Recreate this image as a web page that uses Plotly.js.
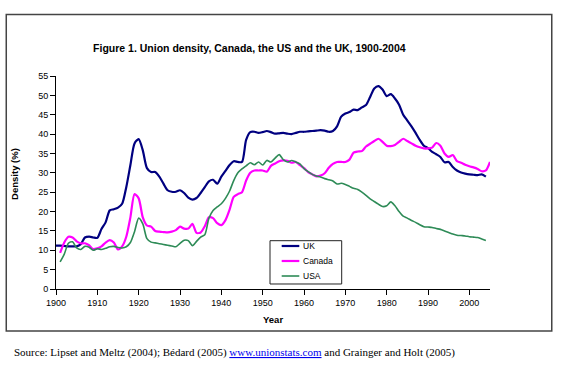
<!DOCTYPE html>
<html>
<head>
<meta charset="utf-8">
<script src="https://cdn.plot.ly/plotly-3.0.1.min.js"></script>
<style>html,body{margin:0;padding:0;background:#fff}#chart{width:568px;height:367px}</style>
</head>
<body>
<div id="chart"></div>
<script>
// ---- data ----
var ukYears = [];
for (var y = 1900; y <= 2004; y++) ukYears.push(y);
var ukValues = [11.2,11.2,11.1,11.0,11.0,11.0,11.6,13.3,13.5,13.3,
  13.2,15.5,17.2,20.3,20.6,21.0,22.0,26.3,32.0,37.6,
  38.7,35.8,31.2,30.2,30.2,29.0,27.2,25.5,25.1,25.1,
  25.5,24.8,23.6,23.1,23.5,24.8,26.3,27.8,28.2,27.2,
  29.0,30.5,32.0,33.0,32.8,32.8,38.5,40.5,40.6,40.3,
  40.5,40.8,40.5,40.1,40.2,40.3,40.1,40.0,40.3,40.6,
  40.6,40.7,40.8,40.9,41.0,40.9,40.6,40.8,42.0,44.5,
  45.3,45.7,46.3,46.2,46.9,47.5,49.6,51.8,52.4,51.5,
  49.8,50.3,49.2,47.6,45.0,43.5,42.0,40.3,38.5,37.0,
  36.4,35.4,34.8,34.1,32.7,32.8,31.5,30.6,30.1,29.8,
  29.6,29.5,29.4,29.6,29.0];

var canadaYears = [];
for (var y2 = 1901; y2 <= 2005; y2++) canadaYears.push(y2);
var canadaValues = [9.3,12.0,13.5,13.3,12.3,11.8,11.8,11.3,10.3,
  10.5,11.0,12.0,12.6,12.0,10.2,11.0,13.5,18.5,24.5,
  23.4,18.5,16.4,16.1,15.0,14.8,14.7,14.6,14.8,15.2,
  16.1,15.6,15.6,16.8,14.5,14.6,16.2,18.5,18.3,17.0,
  16.5,17.8,20.5,23.8,24.5,25.0,28.0,30.0,30.6,30.6,
  30.6,30.3,31.8,32.4,33.0,33.2,33.1,32.6,32.8,32.0,
  31.2,30.2,29.6,29.1,29.3,29.9,31.3,32.3,32.8,32.8,
  32.8,33.4,35.2,35.5,35.6,36.8,37.5,38.2,38.8,38.0,
  37.0,36.9,37.2,38.0,38.8,38.2,37.6,37.0,36.6,36.3,
  36.3,36.5,37.7,37.0,35.0,34.1,34.6,33.0,32.6,32.1,
  31.7,31.4,31.0,30.4,30.6,32.8];

var usaYears = [];
for (var y3 = 1901; y3 <= 2004; y3++) usaYears.push(y3);
var usaValues = [7.0,9.0,11.8,12.2,10.6,10.2,11.0,10.8,10.0,
  10.4,10.2,10.5,10.9,11.0,10.7,10.6,10.9,12.0,14.8,
  18.3,16.8,13.0,12.1,11.9,11.7,11.5,11.3,11.1,10.9,
  11.8,12.6,12.5,11.2,12.3,13.4,14.0,18.3,20.3,21.2,
  22.0,23.4,25.3,28.0,30.0,31.0,31.8,32.6,32.1,32.8,
  32.0,33.2,32.8,33.8,34.7,33.4,32.8,33.2,32.8,32.3,
  31.1,30.3,29.6,29.2,28.9,28.5,28.2,27.9,27.1,27.3,
  27.0,26.5,26.0,25.7,25.0,24.2,23.3,22.6,21.9,21.3,
  21.5,22.5,21.5,20.0,18.8,18.3,17.7,17.2,16.6,16.1,
  16.0,15.9,15.6,15.4,15.0,14.6,14.2,13.9,13.8,13.7,
  13.5,13.4,13.3,12.9,12.5];

var xTicks = [1900,1910,1920,1930,1940,1950,1960,1970,1980,1990,2000];
var seriesNames = ['UK','Canada','USA'];
var titleText = 'Figure 1. Union density, Canada, the US and the UK, 1900-2004';
var xTitle = 'Year';
var yTitle = 'Density (%)';
var sourceText = 'Source: Lipset and Meltz (2004); Bédard (2005) <span style="color:#0000ee;text-decoration:underline">www.unionstats.com</span> and Grainger and Holt (2005)';

// ---- styles ----
var sans = 'Liberation Sans, Arial, sans-serif';
var colors = ['#000080', '#ff00ff', '#2e8b57'];
var widths = [2.2, 2.2, 1.6];
var xs = [ukYears, canadaYears, usaYears];
var ys = [ukValues, canadaValues, usaValues];

var traces = seriesNames.map(function (n, i) {
  return {x: xs[i], y: ys[i], name: n, type: 'scatter', mode: 'lines', showlegend: false,
          line: {color: colors[i], width: widths[i], shape: 'spline', smoothing: 0.7}};
});

// compact boxed legend (Excel style), built from the series names/colours
var legX0 = 0.4931, legX1 = 0.6583, legY0 = 0.0235, legY1 = 0.2268;
var keyX0 = 0.520, keyX1 = 0.5606, textX = 0.5645;
var rowY = [0.2019, 0.1315, 0.0610];
var shapes = [
  {type: 'rect', xref: 'paper', yref: 'paper', x0: -0.1146, x1: 1.1423, y0: -0.197, y1: 1.289,
   line: {color: '#444', width: 1.5}, fillcolor: 'rgba(0,0,0,0)', layer: 'below'},
  {type: 'rect', xref: 'paper', yref: 'paper', x0: legX0, x1: legX1, y0: legY0, y1: legY1,
   line: {color: '#222', width: 1}, fillcolor: '#fff', layer: 'above'}
];
var annotations = [
  {text: xTitle, xref: 'paper', yref: 'paper', x: 0.5, y: -0.145, xanchor: 'center', yanchor: 'middle',
   showarrow: false, font: {family: sans, size: 9.5, weight: 700}},
  {text: yTitle, xref: 'paper', yref: 'paper', x: -0.0952, y: 0.539, xanchor: 'center', yanchor: 'middle',
   textangle: -90, showarrow: false, font: {family: sans, size: 9.5, weight: 700}},
  {text: sourceText, xref: 'paper', yref: 'paper', x: -0.1005, y: -0.300, xanchor: 'left', yanchor: 'middle',
   showarrow: false, font: {family: 'Liberation Serif, Times New Roman, serif', size: 11}}
];
seriesNames.forEach(function (n, i) {
  shapes.push({type: 'line', xref: 'paper', yref: 'paper', x0: keyX0, x1: keyX1, y0: rowY[i], y1: rowY[i],
               line: {color: colors[i], width: widths[i]}, layer: 'above'});
  annotations.push({text: n, xref: 'paper', yref: 'paper', x: textX, y: rowY[i], xanchor: 'left', yanchor: 'middle',
                    showarrow: false, font: {family: sans, size: 8.5, color: '#000'}});
});

var layout = {
  width: 568, height: 367,
  margin: {l: 56, r: 78, t: 76, b: 78},
  paper_bgcolor: '#fff', plot_bgcolor: '#fff',
  font: {family: sans, size: 9, color: '#000'},
  title: {text: titleText, font: {family: sans, size: 10.5, weight: 700, color: '#000'},
          x: 0.439, xref: 'container', xanchor: 'center', y: 0.869, yref: 'container', yanchor: 'middle'},
  showlegend: false,
  xaxis: {range: [1900, 2005], tickvals: xTicks, ticks: 'outside', ticklen: 5, tickcolor: '#000',
          showline: true, linecolor: '#000', linewidth: 1, showgrid: false, zeroline: false,
          tickfont: {family: sans, size: 9}, fixedrange: true},
  yaxis: {range: [0, 55], dtick: 5, ticks: 'outside', ticklen: 5, tickcolor: '#000',
          showline: true, linecolor: '#000', linewidth: 1, showgrid: false, zeroline: false,
          tickfont: {family: sans, size: 9}, fixedrange: true},
  shapes: shapes,
  annotations: annotations
};

Plotly.newPlot('chart', traces, layout, {displayModeBar: false, staticPlot: true});
</script>
</body>
</html>
